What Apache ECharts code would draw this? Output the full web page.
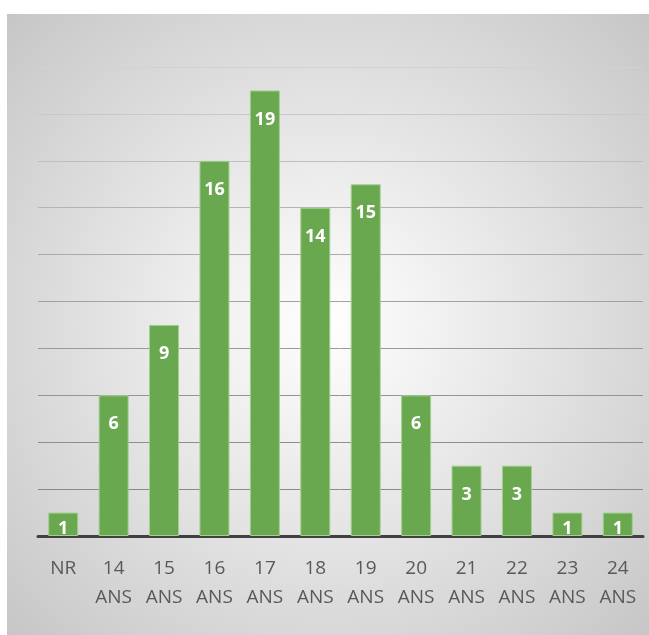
<!DOCTYPE html>
<html><head><meta charset="utf-8">
<script src="https://cdn.jsdelivr.net/npm/echarts@6/dist/echarts.min.js"></script>
<style>html,body{margin:0;padding:0;background:#fff;width:649px;height:635px;overflow:hidden}
#c{position:absolute;left:7px;top:14px;width:642px;height:621px}</style>
</head><body><div id="c"></div>
<script>
const categories = ['NR','14\nANS','15\nANS','16\nANS','17\nANS','18\nANS','19\nANS','20\nANS','21\nANS','22\nANS','23\nANS','24\nANS'];
const values = [1,6,9,16,19,14,15,6,3,3,1,1];
const yMin = 0, yMax = 20, yStep = 2;

const chart = echarts.init(document.getElementById('c'), null, {renderer:'canvas'});
chart.setOption({
  animation:false,
  backgroundColor:{type:'radial',x:0.5,y:0.5,r:0.75,colorStops:[{offset:0,color:'#ffffff'},{offset:1,color:'#c4c4c4'}]},
  grid:{left:31,right:6,top:53,bottom:99,containLabel:false},
  xAxis:{type:'category',data:categories,
    axisLine:{lineStyle:{color:'#404040',width:3}},
    axisTick:{show:false},
    axisLabel:{color:'#595959',fontSize:19,fontFamily:'Open Sans',margin:18,lineHeight:29,interval:0}
  },
  yAxis:{type:'value',min:yMin,max:yMax,interval:yStep,
    axisLabel:{show:false},axisLine:{show:false},axisTick:{show:false},
    splitLine:{lineStyle:{width:1,color:['#7a7a7a','#8a8a8a','#8e8e8e','#949494','#9a9a9a','#a2a2a2','#aaaaaa','#b4b4b4','#bebebe','#c8c8c8','#d2d2d2']}}
  },
  series:[{type:'bar',data:values,barWidth:30,
    itemStyle:{color:'#6aa84f',borderColor:'#a3cf90',borderWidth:1},
    label:{show:true,position:'insideTop',color:'#ffffff',fontWeight:'bold',fontSize:18,fontFamily:'Open Sans'},
    labelLayout:function(p){
      const r=p.rect;
      return {y:Math.min(r.y+29, r.y+r.height-7), align:'center', verticalAlign:'middle'};
    }
  }]
});
</script></body></html>
